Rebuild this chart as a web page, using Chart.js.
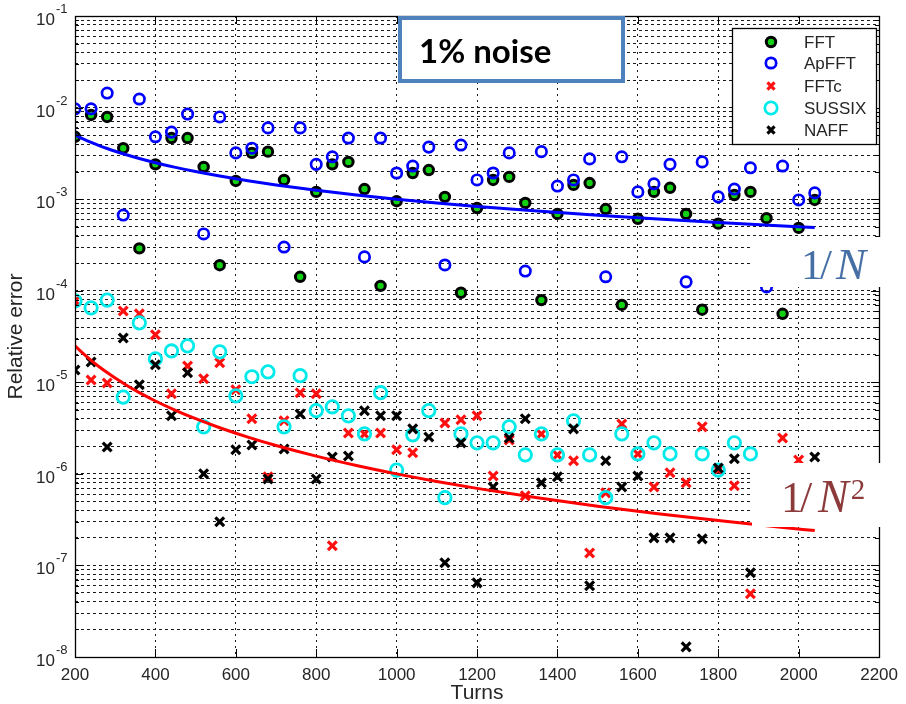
<!DOCTYPE html>
<html><head><meta charset="utf-8">
<script src="https://cdn.jsdelivr.net/npm/chart.js@4.4.1/dist/chart.umd.min.js"></script>
<style>html,body{margin:0;padding:0;background:#fff}#wrap{width:906px;height:704px}</style>
</head><body><div id="wrap"><canvas id="c" width="906" height="704"></canvas></div>
<script>
// ---- data ----
const turns = [200,240,280,320,360,400,440,480,520,560,600,640,680,720,760,800,840,880,920,960,1000,1040,1080,1120,1160,1200,1240,1280,1320,1360,1400,1440,1480,1520,1560,1600,1640,1680,1720,1760,1800,1840,1880,1920,1960,2000,2040];
const fft = [4.8e-3,8.3e-3,7.9e-3,3.6e-3,2.9e-4,2.4e-3,4.65e-3,4.65e-3,2.25e-3,1.9e-4,1.58e-3,3.2e-3,3.3e-3,1.62e-3,1.42e-4,1.2e-3,2.4e-3,2.55e-3,1.29e-3,1.13e-4,9.5e-4,1.93e-3,2.08e-3,1.06e-3,9.5e-5,8.0e-4,1.62e-3,1.75e-3,9.1e-4,7.9e-5,6.9e-4,1.43e-3,1.5e-3,7.8e-4,7.0e-5,6.1e-4,1.2e-3,1.33e-3,6.9e-4,6.2e-5,5.4e-4,1.11e-3,1.2e-3,6.2e-4,5.6e-5,4.85e-4,9.8e-4];
const apfft = [9.7e-3,9.7e-3,1.44e-2,6.7e-4,1.24e-2,4.8e-3,5.4e-3,8.5e-3,4.17e-4,7.9e-3,3.2e-3,3.6e-3,6.0e-3,3.0e-4,6.0e-3,2.4e-3,2.9e-3,4.65e-3,2.34e-4,4.65e-3,1.93e-3,2.3e-3,3.7e-3,1.91e-4,3.9e-3,1.62e-3,1.93e-3,3.2e-3,1.64e-4,3.3e-3,1.39e-3,1.62e-3,2.75e-3,1.42e-4,2.9e-3,1.2e-3,1.47e-3,2.4e-3,1.25e-4,2.55e-3,1.06e-3,1.29e-3,2.2e-3,1.1e-4,2.3e-3,9.8e-4,1.17e-3];
const fftc = [7.75e-5,1.06e-5,9.8e-6,6.0e-5,5.6e-5,3.3e-5,7.5e-6,1.51e-5,1.09e-5,1.63e-5,8.3e-6,4.0e-6,9.3e-7,3.8e-6,7.7e-6,7.5e-6,1.64e-7,2.8e-6,2.73e-6,2.8e-6,1.83e-6,1.7e-6,null,3.6e-6,3.9e-6,4.3e-6,9.5e-7,2.35e-6,5.75e-7,2.73e-6,1.61e-6,1.39e-6,1.37e-7,6.2e-7,3.5e-6,1.65e-6,7.2e-7,1.03e-6,8.0e-7,3.26e-6,1.1e-6,7.4e-7,4.9e-8,null,2.47e-6,1.42e-6,null];
const sussix = [7.75e-5,6.5e-5,7.9e-5,6.9e-6,4.45e-5,1.8e-5,2.2e-5,2.5e-5,3.26e-6,2.15e-5,7.1e-6,1.15e-5,1.3e-5,3.26e-6,1.18e-5,4.9e-6,5.4e-6,4.3e-6,2.73e-6,7.7e-6,1.1e-6,2.67e-6,4.9e-6,5.5e-7,2.73e-6,2.18e-6,2.18e-6,3.26e-6,1.61e-6,2.73e-6,1.61e-6,3.8e-6,1.61e-6,5.5e-7,2.73e-6,1.65e-6,2.18e-6,1.65e-6,null,1.65e-6,1.1e-6,2.18e-6,1.65e-6,null,null,null,null];
const naff = [1.36e-5,1.67e-5,1.97e-6,3.05e-5,9.4e-6,1.55e-5,4.3e-6,1.27e-5,1.0e-6,3.0e-7,1.83e-6,2.07e-6,8.8e-7,1.87e-6,4.5e-6,8.8e-7,1.53e-6,1.57e-6,4.9e-6,4.3e-6,4.3e-6,3.1e-6,2.53e-6,1.07e-7,2.18e-6,6.45e-8,7.2e-7,2.47e-6,4.0e-6,8.0e-7,9.3e-7,3.1e-6,6.0e-8,1.39e-6,7.2e-7,9.5e-7,2.0e-7,2.0e-7,1.29e-8,1.95e-7,1.16e-6,1.46e-6,8.3e-8,null,null,null,1.53e-6];
// reference curves 1/N and 1/N^2
const refTurns = [200,220,240,260,280,300,330,360,400,450,500,560,630,700,800,900,1000,1100,1200,1350,1500,1650,1800,1950,2040];
const refInvN  = [0.005,0.004545,0.004167,0.003846,0.003571,0.003333,0.00303,0.002778,0.0025,0.002222,0.002,0.001786,0.001587,0.001429,0.00125,0.001111,0.001,0.000909,0.000833,0.000741,0.000667,0.000606,0.000556,0.000513,0.00049];
const refInvN2 = [2.5e-5,2.066e-5,1.736e-5,1.479e-5,1.276e-5,1.111e-5,9.18e-6,7.72e-6,6.25e-6,4.94e-6,4.0e-6,3.19e-6,2.52e-6,2.04e-6,1.5625e-6,1.235e-6,1.0e-6,8.26e-7,6.94e-7,5.49e-7,4.44e-7,3.67e-7,3.09e-7,2.63e-7,2.4e-7];
// axis ticks
const xTickValues = [200,400,600,800,1000,1200,1400,1600,1800,2000,2200];
const yDecades = [-8,-7,-6,-5,-4,-3,-2,-1];
const yTickBase = '10';
const yTickExponents = ['-8','-7','-6','-5','-4','-3','-2','-1'];
const seriesNames = ['FFT','ApFFT','FFTc','SUSSIX','NAFF'];

// ---- build ----
function pts(xs, ys){ const out=[]; xs.forEach((x,i)=>{ if(ys[i]!==null && ys[i]!==undefined) out.push({x:x,y:ys[i]}); }); return out; }
const yTickValues = [];
yDecades.forEach(e=>{
  const top = e === yDecades[yDecades.length-1] ? 1 : 9;
  for(let m=1;m<=top;m++) yTickValues.push(Number((m*Math.pow(10,e)).toPrecision(3)));
});
function isDecade(v){ const e=Math.round(Math.log10(v)); return Math.abs(v/Math.pow(10,e)-1)<1e-6; }

const styles = [
  {pointStyle:'circle', pointRadius:4.7, pointBorderWidth:3, pointBorderColor:'#000', pointBackgroundColor:'#12d012'},
  {pointStyle:'circle', pointRadius:5.2, pointBorderWidth:2.7, pointBorderColor:'#0000ff', pointBackgroundColor:'rgba(0,0,0,0)'},
  {pointStyle:'crossRot', pointRadius:6.2, pointBorderWidth:3.2, pointBorderColor:'#ff1010', pointBackgroundColor:'rgba(0,0,0,0)'},
  {pointStyle:'circle', pointRadius:6.2, pointBorderWidth:2.8, pointBorderColor:'#00eaea', pointBackgroundColor:'rgba(0,0,0,0)'},
  {pointStyle:'crossRot', pointRadius:6.2, pointBorderWidth:3.2, pointBorderColor:'#000', pointBackgroundColor:'rgba(0,0,0,0)'}
];
const seriesData = [fft, apfft, fftc, sussix, naff];
const datasets = seriesData.map((arr,i)=>Object.assign({
  type:'scatter', label:seriesNames[i], data:pts(turns,arr), order:5-i, pointHoverRadius:0
}, styles[i]));
datasets.push({type:'line', label:'1/N', data:pts(refTurns,refInvN), borderColor:'#0000ff', borderWidth:3, pointRadius:0, cubicInterpolationMode:'monotone', fill:false, order:-1});
datasets.push({type:'line', label:'1/N2', data:pts(refTurns,refInvN2), borderColor:'#ff0000', borderWidth:3, pointRadius:0, cubicInterpolationMode:'monotone', fill:false, order:-1});

function marker(ctx, st, x, y){
  ctx.save();
  ctx.lineWidth = st.pointBorderWidth; ctx.strokeStyle = st.pointBorderColor; ctx.fillStyle = st.pointBackgroundColor;
  ctx.beginPath();
  if(st.pointStyle==='circle'){ ctx.arc(x,y,st.pointRadius,0,Math.PI*2); ctx.fill(); ctx.stroke(); }
  else { const d = st.pointRadius*0.7071; ctx.moveTo(x-d,y-d); ctx.lineTo(x+d,y+d); ctx.moveTo(x+d,y-d); ctx.lineTo(x-d,y+d); ctx.stroke(); }
  ctx.restore();
}

const FONT = '"Liberation Sans", Arial, sans-serif';
const decor = {
  id:'decor',
  afterDraw(chart){
    const ctx = chart.ctx, a = chart.chartArea, xs = chart.scales.x, ys = chart.scales.y;
    ctx.save();
    // inner tick marks
    ctx.strokeStyle = '#000'; ctx.lineWidth = 1; ctx.beginPath();
    yTickValues.forEach(v=>{
      const p = Math.round(ys.getPixelForValue(v))+0.5; const L = isDecade(v)?8:4;
      ctx.moveTo(a.left,p); ctx.lineTo(a.left+L,p); ctx.moveTo(a.right,p); ctx.lineTo(a.right-L,p);
    });
    xTickValues.forEach(v=>{
      const p = Math.round(xs.getPixelForValue(v))+0.5;
      ctx.moveTo(p,a.bottom); ctx.lineTo(p,a.bottom-8); ctx.moveTo(p,a.top); ctx.lineTo(p,a.top+8);
    });
    ctx.stroke();
    // axes box
    ctx.lineWidth = 1.3; ctx.strokeRect(Math.round(a.left)+0.5, Math.round(a.top)+0.5, Math.round(a.right-a.left), Math.round(a.bottom-a.top));
    // y tick labels 10^e
    ctx.fillStyle = '#262626'; ctx.textBaseline = 'alphabetic';
    yDecades.forEach((e,i)=>{
      const p = ys.getPixelForValue(Math.pow(10,e));
      ctx.font = '17px ' + FONT; ctx.textAlign = 'right'; ctx.fillText(yTickBase, 55, p + 9);
      ctx.font = '13px ' + FONT; ctx.textAlign = 'left'; ctx.fillText(yTickExponents[i], 56, p - 3);
    });
    // legend
    ctx.fillStyle = '#fff'; ctx.fillRect(732,28,144,116);
    ctx.lineWidth = 1.3; ctx.strokeStyle = '#000'; ctx.strokeRect(732.5,28.5,144,116);
    const rows = [42,63,86,108,130];
    ctx.font = '17px ' + FONT; ctx.textBaseline = 'middle'; ctx.textAlign = 'left';
    seriesNames.forEach((n,i)=>{
      const st = Object.assign({}, styles[i]);
      if(st.pointStyle==='crossRot') st.pointRadius = 5;
      marker(ctx, st, 771, rows[i]);
      ctx.fillStyle = '#262626'; ctx.fillText(n, 804, rows[i]+1);
    });
    // 1% noise box
    ctx.fillStyle = '#fff'; ctx.fillRect(400,18,223,63);
    ctx.strokeStyle = '#4f81bd'; ctx.lineWidth = 4; ctx.strokeRect(400,18,223,63);
    ctx.fillStyle = '#000'; ctx.font = 'bold 33px Lato, "Open Sans", sans-serif'; ctx.textBaseline = 'alphabetic';
    ctx.fillText('1% noise', 419, 63);
    // 1/N label
    ctx.fillStyle = '#fff'; ctx.fillRect(752,237,129,50);
    ctx.fillStyle = '#4670a5';
    ctx.font = '43px "Liberation Serif", serif'; ctx.fillText('1', 801, 279); ctx.fillText('/', 820, 279);
    ctx.font = 'italic 45px "Liberation Serif", serif'; ctx.fillText('N', 836, 279);
    // 1/N^2 label
    ctx.fillStyle = '#fff'; ctx.fillRect(752,463,129,64);
    ctx.fillStyle = '#8c3a3a';
    ctx.font = '44px "Liberation Serif", serif'; ctx.fillText('1', 781, 512); ctx.fillText('/', 800, 512);
    ctx.font = 'italic 46px "Liberation Serif", serif'; ctx.fillText('N', 818, 512);
    const nw = ctx.measureText('N').width;
    ctx.font = '29px "Liberation Serif", serif'; ctx.fillText('2', 818 + nw + 2, 499);
    ctx.restore();
  }
};

new Chart(document.getElementById('c'), {
  type:'scatter',
  data:{datasets:datasets},
  options:{
    responsive:false, devicePixelRatio:1, animation:false,
    layout:{padding:{left:0,right:23,top:16,bottom:0}},
    plugins:{legend:{display:false}, tooltip:{enabled:false}},
    events:[],
    scales:{
      x:{type:'linear', min:200, max:2200,
        afterBuildTicks(s){ s.ticks = xTickValues.map(v=>({value:v})); },
        afterFit(s){ s.height = 47; },
        grid:{color:'#1a1a1a', lineWidth:1, drawTicks:false},
        border:{display:false, dash:[2,4]},
        ticks:{autoSkip:false, maxRotation:0, padding:8, color:'#262626', font:{family:FONT, size:17},
          callback(v){ return String(v); }},
        title:{display:true, text:'Turns', color:'#262626', padding:{top:0,bottom:0}, font:{family:FONT, size:21, lineHeight:1}}
      },
      y:{type:'logarithmic', min:1e-8, max:1e-1,
        afterBuildTicks(s){ s.ticks = yTickValues.map(v=>({value:v, major:isDecade(v)})); },
        afterFit(s){ s.width = 75; },
        grid:{color:'#1a1a1a', lineWidth:1, drawTicks:false},
        border:{display:false, dash:[3,3]},
        ticks:{display:false, autoSkip:false},
        title:{display:true, text:'Relative error', color:'#262626', padding:{top:6,bottom:0}, font:{family:FONT, size:21, lineHeight:1}}
      }
    }
  },
  plugins:[decor]
});
</script></body></html>
